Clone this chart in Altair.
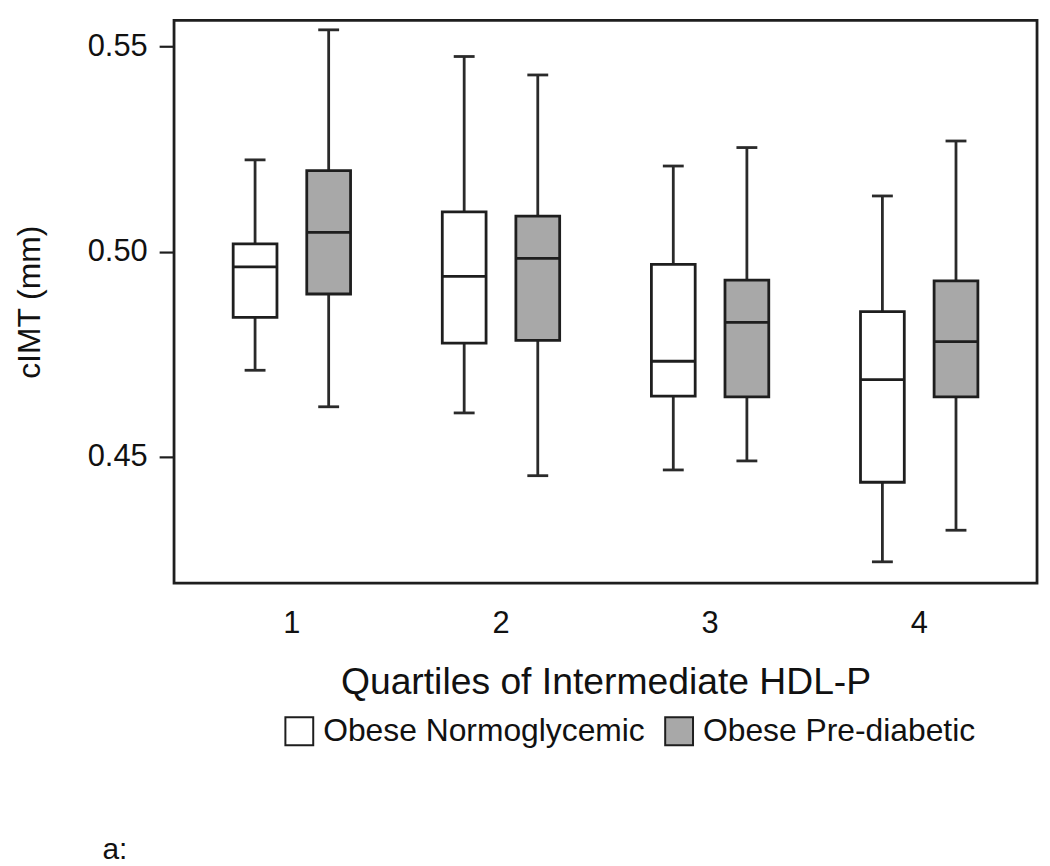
import altair as alt
import pandas as pd

quartiles = ["1", "2", "3", "4"]
groups = ["Obese Normoglycemic", "Obese Pre-diabetic"]

normo_min = [0.4711, 0.4607, 0.4468, 0.4244]
normo_q1 = [0.4840, 0.4777, 0.4648, 0.4438]
normo_med = [0.4963, 0.4940, 0.4733, 0.4688]
normo_q3 = [0.5019, 0.5097, 0.4969, 0.4854]
normo_max = [0.5224, 0.5476, 0.5209, 0.5136]

pre_min = [0.4622, 0.4454, 0.4490, 0.4321]
pre_q1 = [0.4897, 0.4784, 0.4646, 0.4646]
pre_med = [0.5047, 0.4984, 0.4828, 0.4781]
pre_q3 = [0.5198, 0.5087, 0.4931, 0.4929]
pre_max = [0.5541, 0.5431, 0.5254, 0.5270]

y_ticks = [0.45, 0.50, 0.55]

stats = {
    groups[0]: (normo_min, normo_q1, normo_med, normo_q3, normo_max),
    groups[1]: (pre_min, pre_q1, pre_med, pre_q3, pre_max),
}
rows = []
for g in groups:
    mn, q1, md, q3, mx = stats[g]
    for i, q in enumerate(quartiles):
        rows.append(dict(quartile=q, group=g, lo=mn[i], q1=q1[i], med=md[i], q3=q3[i], hi=mx[i]))
df = pd.DataFrame(rows)

FONT = "Liberation Sans"
INK = "#1e1e1e"
LW = 2.8

xaxis = alt.Axis(
    title="Quartiles of Intermediate HDL-P", labelAngle=0, ticks=False, tickSize=0,
    domain=False, labelFontSize=31, labelPadding=26, labelFont=FONT, labelColor="#111",
    titleFontSize=37.5, titleFont=FONT, titleFontWeight="normal", titleColor="#111",
    titleBaseline="alphabetic", titleY=111,
)
xenc = alt.X("quartile:N", sort=quartiles,
             scale=alt.Scale(paddingInner=0.2, paddingOuter=0.1635), axis=xaxis)
xoff = alt.XOffset("group:N", sort=groups,
                   scale=alt.Scale(paddingInner=0.405, paddingOuter=0.339))
yscale = alt.Scale(domain=[0.4192, 0.5564], nice=False, zero=False)
yaxis = alt.Axis(
    title="cIMT (mm)", values=y_ticks, format=".2f", tickSize=15, tickWidth=2.2,
    tickColor=INK, labelPadding=12, labelFontSize=31, labelFont=FONT, labelColor="#111",
    titleFontSize=32, titleFont=FONT, titleFontWeight="normal", titleColor="#111",
    titleBaseline="alphabetic", titleX=-135, domain=False, grid=False,
)

base = alt.Chart(df)

whisk = base.mark_rule(color="#2a2a2a", strokeWidth=LW).encode(
    x=xenc, xOffset=xoff,
    y=alt.Y("lo:Q", scale=yscale, axis=yaxis), y2="hi:Q",
)

box = base.mark_bar(stroke=INK, strokeWidth=LW, opacity=1).encode(
    x=xenc, xOffset=xoff,
    y=alt.Y("q1:Q", scale=yscale, axis=yaxis), y2="q3:Q",
    fill=alt.Fill("group:N", sort=groups,
                  scale=alt.Scale(domain=groups, range=["#ffffff", "#a8a8a8"]),
                  legend=alt.Legend(
                      title=None, orient="none", legendX=110, legendY=699,
                      direction="horizontal", symbolType="square", symbolSize=784,
                      symbolStrokeColor=INK, symbolStrokeWidth=2, symbolOpacity=1,
                      labelFontSize=32, labelFont=FONT, labelColor="#111",
                      labelOffset=8, columnPadding=16, padding=0, labelLimit=0)),
)

median = base.mark_tick(size=44, thickness=LW, color=INK, opacity=1, orient="horizontal").encode(
    x=xenc, xOffset=xoff, y=alt.Y("med:Q", scale=yscale, axis=yaxis),
)

cap_lo = base.mark_tick(size=21, thickness=LW, color="#2a2a2a", opacity=1, orient="horizontal").encode(
    x=xenc, xOffset=xoff, y=alt.Y("lo:Q", scale=yscale, axis=yaxis),
)
cap_hi = base.mark_tick(size=21, thickness=LW, color="#2a2a2a", opacity=1, orient="horizontal").encode(
    x=xenc, xOffset=xoff, y=alt.Y("hi:Q", scale=yscale, axis=yaxis),
)

label = alt.Chart(pd.DataFrame({"t": ["a:"]})).mark_text(
    align="left", baseline="alphabetic", fontSize=30, font=FONT, color="#111"
).encode(x=alt.value(-72), y=alt.value(843), text="t:N")

chart = alt.layer(whisk, box, median, cap_lo, cap_hi, label).properties(
    width=868, height=566,
    autosize=alt.AutoSizeParams(type="none"),
    padding={"left": 167, "top": 10, "right": 5, "bottom": 280},
).configure_view(stroke=INK, strokeWidth=LW).configure_axis(grid=False)

chart.save("out.html", embed_options={"renderer": "svg", "actions": False})
